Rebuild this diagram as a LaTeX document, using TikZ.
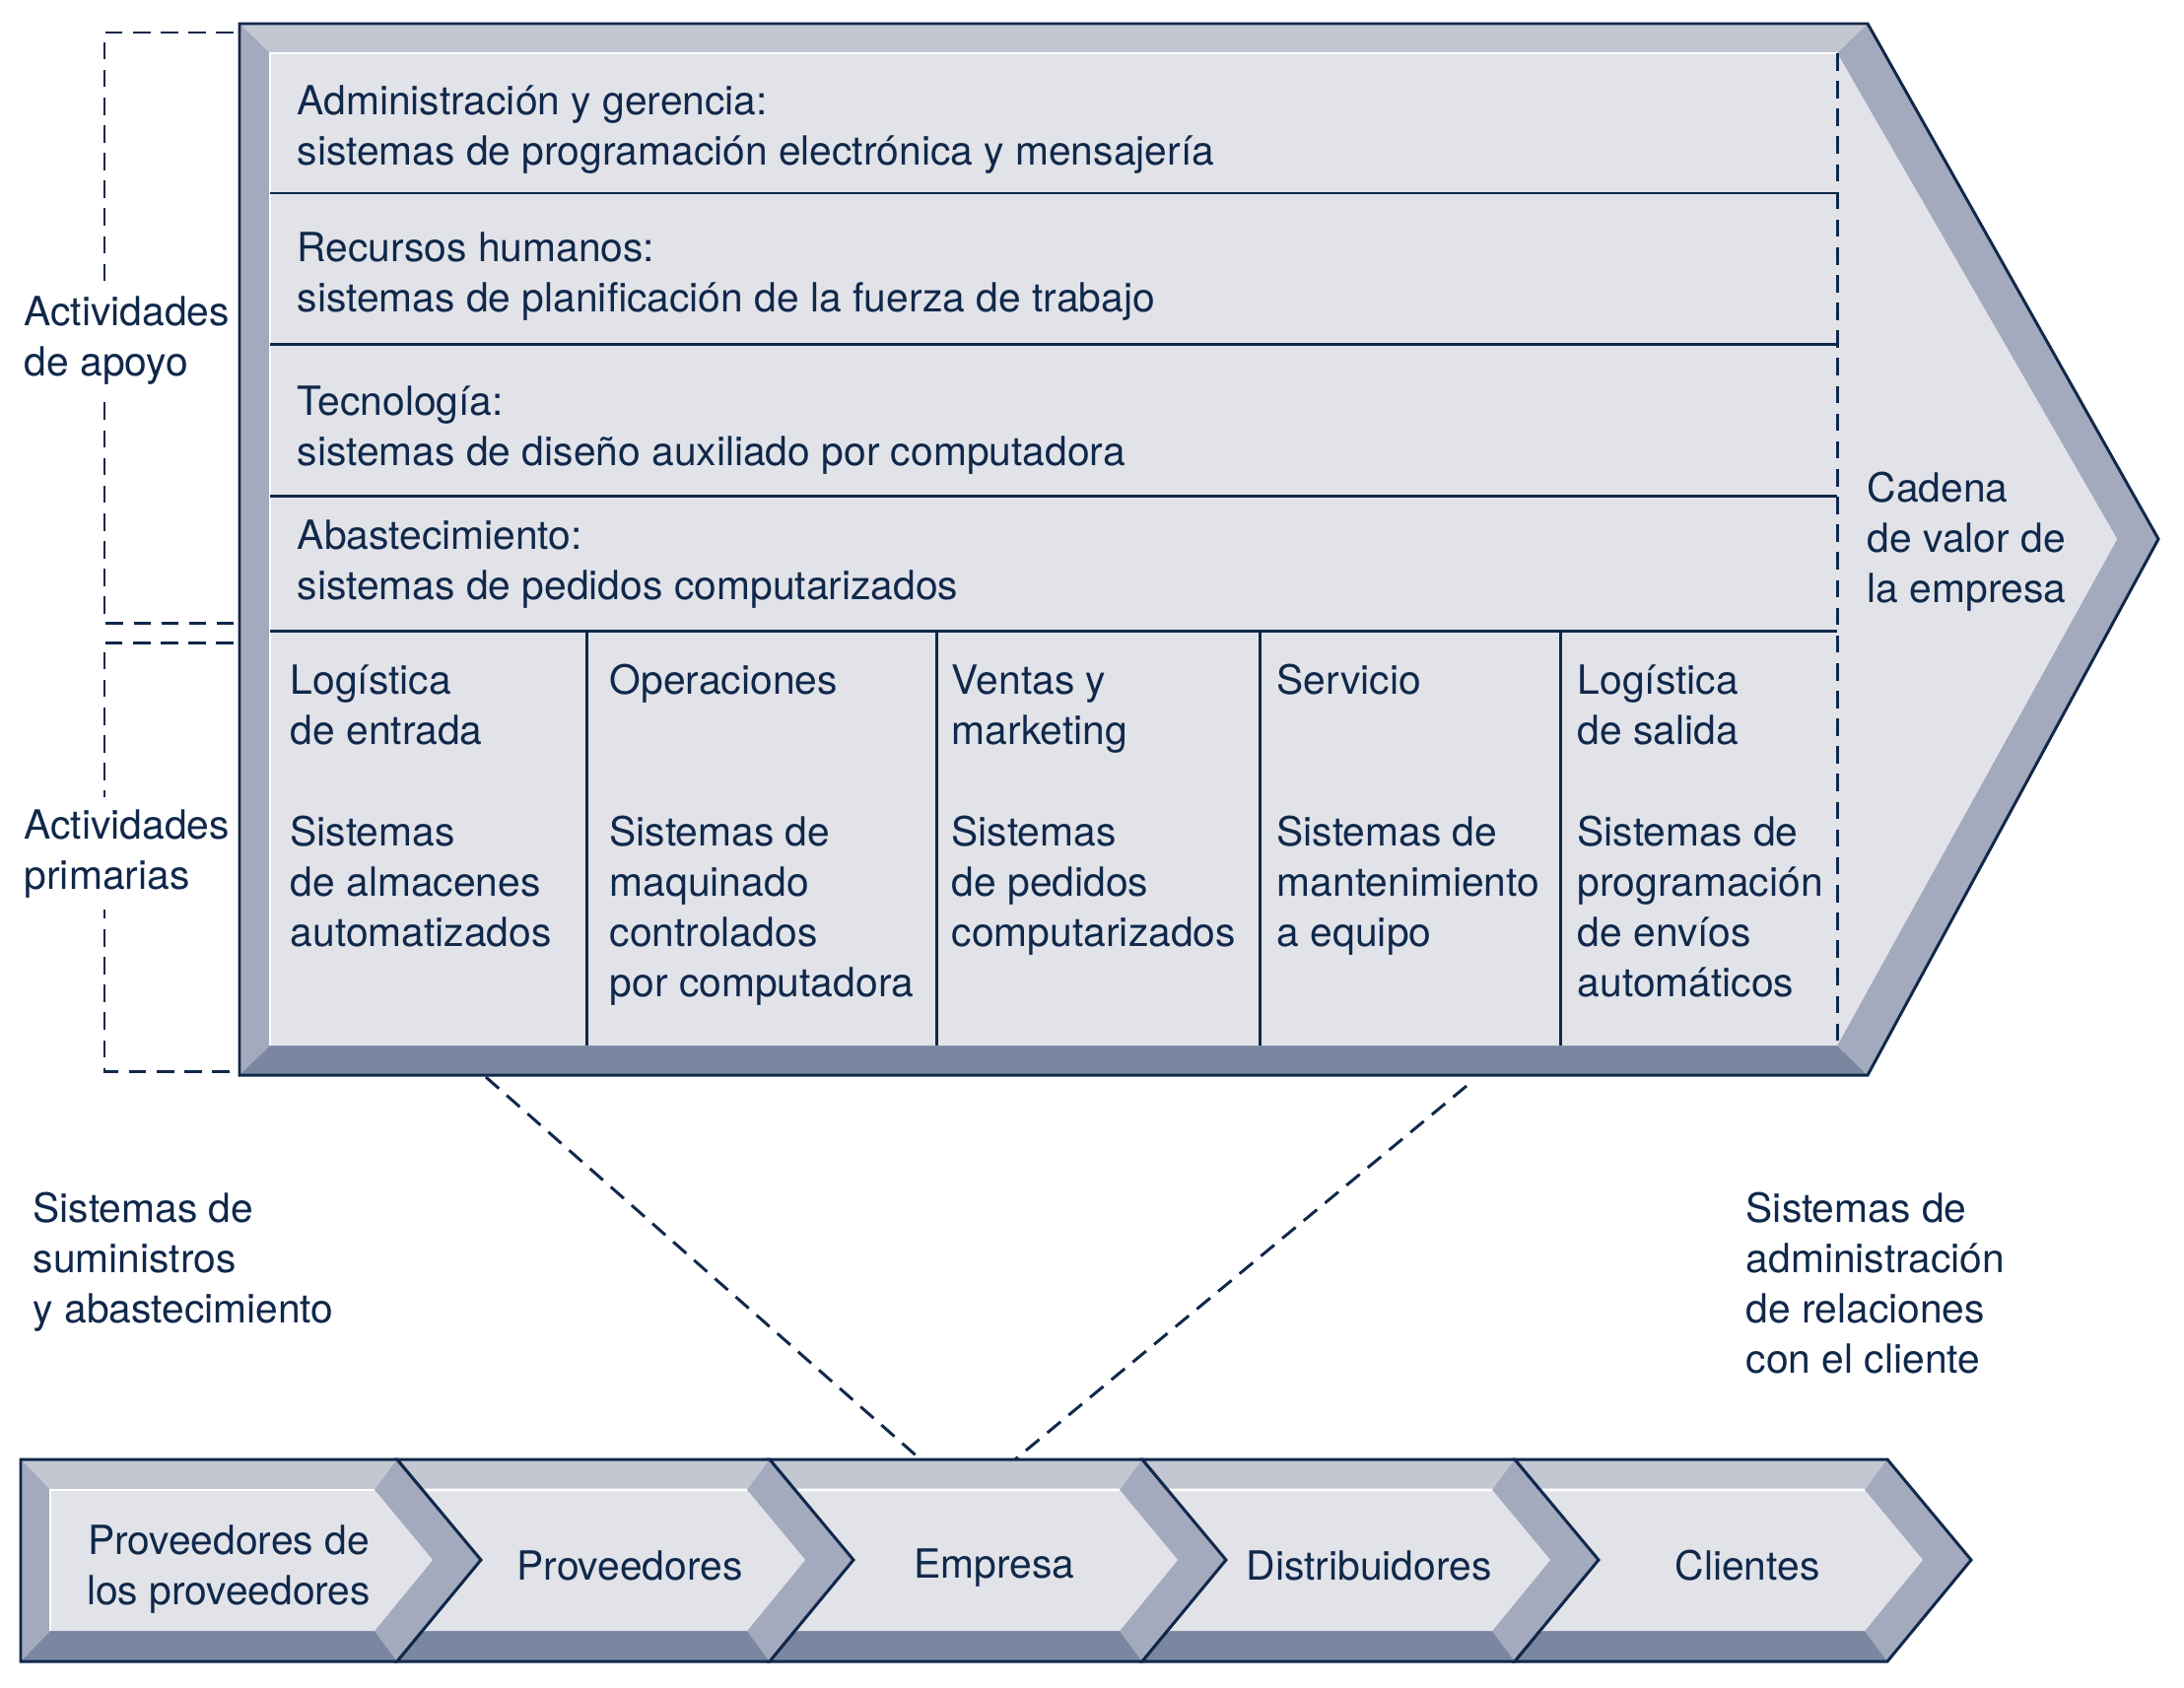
\documentclass[tikz,border=0pt]{standalone}
\usepackage{fontspec}
\setmainfont{TeX Gyre Heros}
\usetikzlibrary{positioning}
\definecolor{navy}{HTML}{10284A}
\definecolor{bevtop}{HTML}{C2C7D2}
\definecolor{bevside}{HTML}{A4AABD}
\definecolor{bevbot}{HTML}{7B87A0}
\definecolor{panel}{HTML}{E1E3E9}
\tikzset{
	texto/.style = {anchor=base west, inner sep=0pt, align=left, text=navy,
		font=\fontsize{11.6}{14.5}\selectfont},
	rotulo/.style = {texto, fill=white, inner ysep=3.5pt},
	etiqueta/.style = {texto, anchor=center, align=center}
}

\begin{document}
\begin{tikzpicture}
		[x=0.01cm, y=-0.01cm,
		line join=miter,
		borde/.style = {draw=navy, line width=0.85pt},
		linea/.style = {navy, line width=0.85pt},
		guion/.style = {navy, line width=0.85pt, dash pattern=on 5pt off 3pt}
		]
		\useasboundingbox (0,0) rectangle (2216,1712);

		% cadena de valor de la empresa
		\fill[bevtop] (243,24) -- (1895,24) -- (1864,54) -- (274,54) -- cycle;
		\fill[bevside] (243,24) -- (274,54) -- (274,1061) -- (243,1091) -- cycle;
		\fill[bevbot] (243,1091) -- (1895,1091) -- (1864,1061) -- (274,1061) -- cycle;
		\fill[bevside] (1895,24) -- (2190,547) -- (2148,547) -- (1864,54) -- cycle;
		\fill[bevside] (2190,547) -- (1895,1091) -- (1864,1061) -- (2148,547) -- cycle;
		\fill[panel] (274,54) -- (1864,54) -- (2148,547) -- (1864,1061) -- (274,1061) -- cycle;
		\draw[white, line width=0.8pt] (274,1061) -- (274,54) -- (1864,54);
		\draw[borde] (243,24) -- (1895,24) -- (2190,547) -- (1895,1091) -- (243,1091) -- cycle;

		\foreach \y in {196,349,503,640}
			\draw[linea] (274,\y) -- (1864,\y);
		\foreach \x in {595,950,1278,1583}
			\draw[linea] (\x,640) -- (\x,1061);
		\draw[guion] (1864,54) -- (1864,1061);

		% llaves
		\draw[guion] (237,33) -- (106,33) -- (106,632) -- (237,632);
		\draw[guion] (237,652) -- (106,652) -- (106,1087) -- (237,1087);

		% (base = linea de base de la ultima linea)
		\node[rotulo] (apoyo) at (24,381) {Actividades\\de apoyo};
		\node[rotulo] (primarias) at (24,902) {Actividades\\primarias};

		% actividades de apoyo
		\node[texto] (admin) at (301,167) {Administración y gerencia:\\sistemas de programación electrónica y mensajería};
		\node[texto] (rrhh) at (301,316) {Recursos humanos:\\sistemas de planificación de la fuerza de trabajo};
		\node[texto] (tecno) at (301,472) {Tecnología:\\sistemas de diseño auxiliado por computadora};
		\node[texto] (abast) at (301,608) {Abastecimiento:\\sistemas de pedidos computarizados};

		% actividades primarias
		\node[texto] (logent) at (294,755) {Logística\\de entrada};
		\node[texto] (oper) at (618,704) {Operaciones};
		\node[texto] (ventas) at (965,755) {Ventas y\\marketing};
		\node[texto] (serv) at (1295,704) {Servicio};
		\node[texto] (logsal) at (1600,755) {Logística\\de salida};
		\node[texto] (sislogent) at (294,960) {Sistemas\\de almacenes\\automatizados};
		\node[texto] (sisoper) at (618,1011) {Sistemas de\\maquinado\\controlados\\por computadora};
		\node[texto] (sisventas) at (965,960) {Sistemas\\de pedidos\\computarizados};
		\node[texto] (sisserv) at (1295,960) {Sistemas de\\mantenimiento\\a equipo};
		\node[texto] (sislogsal) at (1600,1011) {Sistemas de\\programación\\de envíos\\automáticos};

		\node[texto] (cadena) at (1894,611) {Cadena\\de valor de\\la empresa};

		% cadena de suministro
		\foreach \i in {0,...,4}{
			\pgfmathsetmacro{\xc}{403+378*\i}
			\pgfmathsetmacro{\xt}{\xc+85}
			\ifnum\i=0
				\def\xl{21}\def\xm{21}\def\il{51}\def\im{51}
			\else
				\pgfmathsetmacro{\xl}{\xc-378}
				\pgfmathsetmacro{\xm}{\xl+85}
				\pgfmathsetmacro{\il}{\xl+26}
				\let\im\xm
			\fi
			\fill[bevtop] (\xl,1481) -- (\xc,1481) -- (\xt,1583) -- (\xc,1686) -- (\xl,1686) -- (\xm,1583) -- cycle;
			\fill[bevbot] (\xl,1686) -- (\xc,1686) -- ({\xc-23},1655) -- (\il,1655) -- cycle;
			\fill[bevside] (\xc,1481) -- (\xt,1583) -- (\xc,1686) -- ({\xc-23},1655) -- ({\xt-49},1583) -- ({\xc-23},1512) -- cycle;
			\ifnum\i=0
				\fill[bevside] (21,1481) -- (51,1512) -- (51,1655) -- (21,1686) -- cycle;
			\fi
			\fill[panel] (\il,1512) -- ({\xc-23},1512) -- ({\xt-49},1583) -- ({\xc-23},1655) -- (\il,1655) -- (\im,1583) -- cycle;
			\draw[white, line width=0.8pt] (\il,1655) -- (\im,1583) -- (\il,1512) -- ({\xc-23},1512);
			\draw[borde] (\xl,1481) -- (\xc,1481) -- (\xt,1583) -- (\xc,1686) -- (\xl,1686) -- (\xm,1583) -- cycle;
		}

		\node[etiqueta] (provprov) at (232,1593) {Proveedores de\\los proveedores};
		\node[etiqueta] (prov) at (639,1589) {Proveedores};
		\node[etiqueta] (empresa) at (1009,1591) {Empresa};
		\node[etiqueta] (distrib) at (1389,1589) {Distribuidores};
		\node[etiqueta] (clientes) at (1773,1589) {Clientes};

		\node[texto] (suministros) at (33,1342) {Sistemas de\\suministros\\y abastecimiento};
		\node[texto] (crm) at (1771,1393) {Sistemas de\\administración\\de relaciones\\con el cliente};

		% lineas de detalle
		\coordinate (d1) at (493,1093);
		\coordinate (d2) at (1488,1102);
		\coordinate (e1) at (934,1481);
		\coordinate (e2) at (1030,1481);
		\draw[guion] (d1) -- (e1);
		\draw[guion] (d2) -- (e2);
	\end{tikzpicture}
\end{document}
